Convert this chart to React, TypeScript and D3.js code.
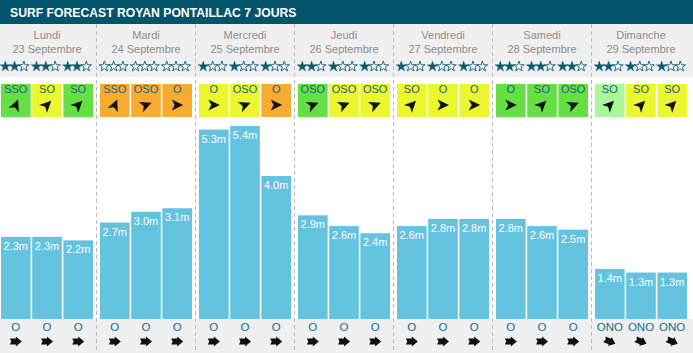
import React, { useEffect, useRef } from "react";
import * as d3 from "d3";

const title = "SURF FORECAST ROYAN PONTAILLAC 7 JOURS";
const days = ["Lundi", "Mardi", "Mercredi", "Jeudi", "Vendredi", "Samedi", "Dimanche"];
const dates = [
  "23 Septembre",
  "24 Septembre",
  "25 Septembre",
  "26 Septembre",
  "27 Septembre",
  "28 Septembre",
  "29 Septembre",
];
const stars = [
  [2, 2, 2],
  [0, 0, 0],
  [1, 1, 1],
  [2, 1, 1],
  [1, 1, 1],
  [2, 2, 2],
  [2, 1, 1],
];
const windDirs = [
  ["SSO", "SO", "SO"],
  ["SSO", "OSO", "O"],
  ["O", "OSO", "O"],
  ["OSO", "OSO", "OSO"],
  ["SO", "O", "O"],
  ["O", "SO", "OSO"],
  ["SO", "SO", "SO"],
];
// wind quality: g = good, l = light good, y = average, o = bad
const windQuality = [
  ["g", "y", "g"],
  ["o", "o", "o"],
  ["y", "y", "o"],
  ["g", "y", "y"],
  ["y", "y", "y"],
  ["g", "g", "g"],
  ["l", "y", "y"],
];
const waveHeights = [
  [2.3, 2.3, 2.2],
  [2.7, 3.0, 3.1],
  [5.3, 5.4, 4.0],
  [2.9, 2.6, 2.4],
  [2.6, 2.8, 2.8],
  [2.8, 2.6, 2.5],
  [1.4, 1.3, 1.3],
];
const swellDirs = [
  ["O", "O", "O"],
  ["O", "O", "O"],
  ["O", "O", "O"],
  ["O", "O", "O"],
  ["O", "O", "O"],
  ["O", "O", "O"],
  ["ONO", "ONO", "ONO"],
];

const compass: Record<string, number> = { SSO: 202.5, SO: 225, OSO: 247.5, O: 270, ONO: 292.5 };
const qualityColor: Record<string, string> = {
  g: "#64e044",
  l: "#abf59a",
  y: "#ebf72e",
  o: "#f7ab30",
};

function App() {
  const ref = useRef<SVGSVGElement>(null);

  useEffect(() => {
    const width = 693,
      height = 353;
    const svg = d3.select(ref.current);
    svg.selectAll("*").remove();

    const teal = "#0b5a72";
    const font = "'Liberation Sans', Arial, Helvetica, sans-serif";

    // backgrounds
    svg.append("rect").attr("width", width).attr("height", height).attr("fill", "#efefef");
    svg.append("rect").attr("y", 77).attr("width", width).attr("height", 242).attr("fill", "#ffffff");
    svg.append("rect").attr("width", width).attr("height", 24).attr("fill", "#02546a");
    svg
      .append("text")
      .attr("x", 10)
      .attr("y", 16.5)
      .attr("fill", "#ffffff")
      .attr("font-family", font)
      .attr("font-weight", "bold")
      .attr("font-size", 12.2)
      .text(title);

    const x = d3.scaleBand<number>().domain(d3.range(days.length)).range([0, width]);
    const inner = d3.scaleBand<number>().domain([0, 1, 2]).range([1, 93]).paddingInner(0.05);
    const y = d3.scaleLinear().domain([0, 5.4]).range([319, 126]);

    // separators
    svg
      .selectAll("line.sep")
      .data(d3.range(1, days.length))
      .enter()
      .append("line")
      .attr("x1", (d) => x(d)! - 2.5)
      .attr("x2", (d) => x(d)! - 2.5)
      .attr("y1", 24)
      .attr("y2", height)
      .attr("stroke", "#bbbbbb")
      .attr("stroke-dasharray", "4,3");

    const day = svg
      .selectAll("g.day")
      .data(days)
      .enter()
      .append("g")
      .attr("transform", (d, i) => "translate(" + x(i) + ",0)");

    day
      .append("text")
      .attr("x", 47)
      .attr("y", 39)
      .attr("text-anchor", "middle")
      .attr("fill", "#8c8c8c")
      .attr("font-family", font)
      .attr("font-size", 11)
      .text((d) => d);
    day
      .append("text")
      .attr("x", 47)
      .attr("y", 52.5)
      .attr("text-anchor", "middle")
      .attr("fill", "#8c8c8c")
      .attr("font-family", font)
      .attr("font-size", 11)
      .text((d, i) => dates[i]);

    const star = d3.symbol().type(d3.symbolStar).size(34)();
    const windArrow = "M6,0 L-5.5,-5.5 L-2.5,0 L-5.5,5.5 Z";
    const swellArrow = "M-6,-3 L0,-3 L0,-5 L6,0 L0,5 L0,3 L-6,3 L-4.5,0 Z";

    day.each(function (d, di) {
      const g = d3.select(this);
      const cell = g
        .selectAll("g.cell")
        .data([0, 1, 2])
        .enter()
        .append("g")
        .attr("transform", (j) => "translate(" + inner(j) + ",0)");
      const bw = inner.bandwidth();

      // stars
      cell.each(function (j) {
        const c = d3.select(this);
        [0, 1, 2].forEach((k) => {
          const full = k < stars[di][j];
          c.append("path")
            .attr("d", star)
            .attr("transform", "translate(" + (bw / 2 - 10.5 + k * 9.3) + ",66.5)")
            .attr("fill", full ? teal : "#ffffff")
            .attr("stroke", teal)
            .attr("stroke-width", full ? 0.4 : 0.9);
        });
      });

      // wind boxes
      cell
        .append("rect")
        .attr("y", 84)
        .attr("width", bw)
        .attr("height", 33)
        .attr("fill", (j) => qualityColor[windQuality[di][j]]);
      cell
        .append("text")
        .attr("x", bw / 2)
        .attr("y", 92.5)
        .attr("text-anchor", "middle")
        .attr("fill", "#1f5f7c")
        .attr("font-family", font)
        .attr("font-size", 11)
        .text((j) => windDirs[di][j]);
      cell
        .append("path")
        .attr("d", windArrow)
        .attr("fill", "#111")
        .attr(
          "transform",
          (j) => "translate(" + bw / 2 + ",105) rotate(" + (compass[windDirs[di][j]] + 180 - 90) + ")"
        );

      // wave bars
      cell
        .append("rect")
        .attr("y", (j) => y(waveHeights[di][j]))
        .attr("width", bw)
        .attr("height", (j) => y(0) - y(waveHeights[di][j]))
        .attr("fill", "#64c3de");
      cell
        .append("text")
        .attr("x", bw / 2)
        .attr("y", (j) => y(waveHeights[di][j]) + 13)
        .attr("text-anchor", "middle")
        .attr("fill", "#ffffff")
        .attr("font-family", font)
        .attr("font-size", 11)
        .text((j) => waveHeights[di][j].toFixed(1) + "m");

      // swell direction
      cell
        .append("text")
        .attr("x", bw / 2)
        .attr("y", 330.5)
        .attr("text-anchor", "middle")
        .attr("fill", "#1a6a88")
        .attr("font-family", font)
        .attr("font-size", 11.5)
        .text((j) => swellDirs[di][j]);
      cell
        .append("path")
        .attr("d", swellArrow)
        .attr("fill", "#111")
        .attr(
          "transform",
          (j) => "translate(" + bw / 2 + ",341.5) rotate(" + (compass[swellDirs[di][j]] + 180 - 90) + ")"
        );
    });
  }, []);

  return (
    <svg
      ref={ref}
      width={693}
      height={353}
      style={{ position: "absolute", left: 0, top: 0, display: "block" }}
    />
  );
}

export default App;
